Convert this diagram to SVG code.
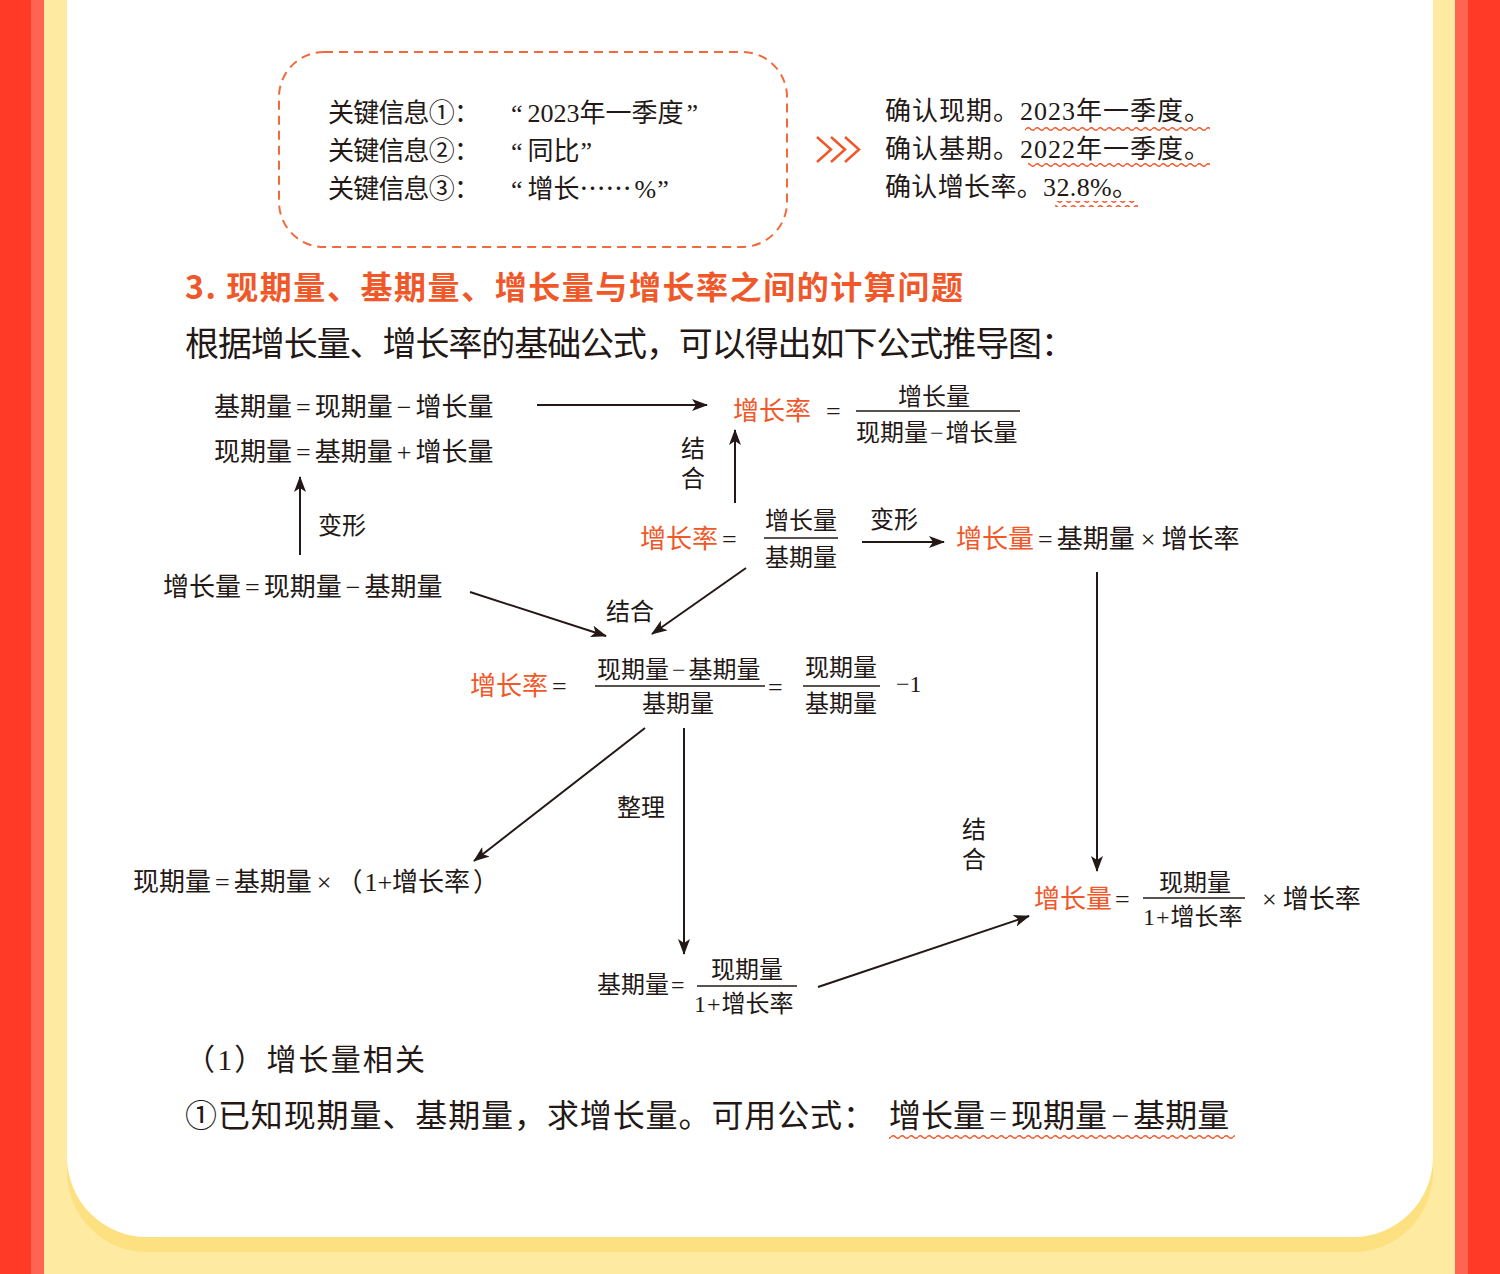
<svg xmlns="http://www.w3.org/2000/svg" width="1500" height="1274" viewBox="0 0 1500 1274">
<style>
.t{font-family:"Liberation Serif","Noto Sans CJK SC",serif;fill:#231815;}
.c{font-family:"Noto Sans CJK SC",sans-serif;}
.o{fill:#f0582a;}
.s26{font-size:26px;}
.s24{font-size:24px;}
.h{font-family:"Noto Sans CJK SC","Liberation Sans",sans-serif;font-weight:bold;font-size:32px;fill:#f0582a;}
.fr{stroke:#231815;stroke-width:1.3;}
.ar{stroke:#231815;stroke-width:2;fill:none;marker-end:url(#ah);}
</style>
<defs>
<marker id="ah" markerUnits="userSpaceOnUse" markerWidth="16" markerHeight="12" refX="15" refY="6" orient="auto">
<path d="M0,0 L16,6 L0,12 L4,6 Z" fill="#231815"/>
</marker>
<pattern id="wave" patternUnits="userSpaceOnUse" width="9" height="6">
<path d="M0,3 Q2.25,0.5 4.5,3 T9,3" fill="none" stroke="#f0582a" stroke-width="1.4"/>
</pattern>
</defs>
<g id="background">
<rect x="0" y="0" width="1500" height="1274" fill="#feeaa0"/>
<rect x="0" y="0" width="31" height="1274" fill="#ff3a26"/>
<rect x="31" y="0" width="13" height="1274" fill="#ff6452"/>
<rect x="1455" y="0" width="13" height="1274" fill="#ff6452"/>
<rect x="1468" y="0" width="32" height="1274" fill="#ff3a26"/>
<path d="M67 0 H1433 V1172 A80 80 0 0 1 1353 1252 H147 A80 80 0 0 1 67 1172 Z" fill="#fde07f"/>
<path d="M67 0 H1433 V1157 A80 80 0 0 1 1353 1237 H147 A80 80 0 0 1 67 1157 Z" fill="#ffffff"/>
</g>
<g id="key-box">
<rect x="279" y="52" width="508" height="195" rx="45" fill="none" stroke="#f26a3a" stroke-width="2" stroke-dasharray="9 6"/>
<text class="t s26" x="328" y="122" textLength="152" lengthAdjust="spacing">关键信息①：</text>
<text class="t s26" x="511" y="122">“<tspan dx="5">2023年一季度</tspan><tspan dx="3">”</tspan></text>
<text class="t s26" x="328" y="160" textLength="152" lengthAdjust="spacing">关键信息②：</text>
<text class="t s26" x="511" y="160">“<tspan dx="5">同比</tspan><tspan dx="1">”</tspan></text>
<text class="t s26" x="328" y="198" textLength="152" lengthAdjust="spacing">关键信息③：</text>
<text class="t s26" x="511" y="198">“<tspan dx="5">增长</tspan><tspan class="c">……</tspan><tspan dx="3">%</tspan><tspan dx="1">”</tspan></text>
</g>
<g id="chevrons" fill="none" stroke="#f0582a" stroke-width="2.5">
<path d="M817 137 L831 149.5 L817 162"/>
<path d="M831 137 L845 149.5 L831 162"/>
<path d="M845 137 L859 149.5 L845 162"/>
</g>
<g id="confirm">
<text class="t s26" x="885" y="120" textLength="325" lengthAdjust="spacing">确认现期。2023年一季度。</text>
<text class="t s26" x="885" y="158" textLength="325" lengthAdjust="spacing">确认基期。2022年一季度。</text>
<text class="t s26" x="885" y="196" textLength="253" lengthAdjust="spacing">确认增长率。32.8%。</text>
<rect x="1025" y="125" width="185" height="6" fill="url(#wave)"/>
<rect x="1028" y="163" width="182" height="6" fill="url(#wave)"/>
<rect x="1055" y="201" width="83" height="6" fill="url(#wave)"/>
</g>
<g id="heading">
<text class="h" x="185" y="299" textLength="778" lengthAdjust="spacing">3. 现期量、基期量、增长量与增长率之间的计算问题</text>
<text class="t" x="185" y="356" font-size="34" textLength="890" lengthAdjust="spacing">根据增长量、增长率的基础公式，可以得出如下公式推导图：</text>
</g>
<g id="connectors">
<line class="ar" x1="537" y1="405" x2="707" y2="405"/>
<line class="ar" x1="300" y1="555" x2="300" y2="477"/>
<line class="ar" x1="470" y1="592" x2="606" y2="636"/>
<line class="ar" x1="735" y1="503" x2="735" y2="430"/>
<line class="ar" x1="862" y1="542" x2="944" y2="542"/>
<line class="ar" x1="746" y1="568" x2="652" y2="634"/>
<line class="ar" x1="1097" y1="572" x2="1097" y2="871"/>
<line class="ar" x1="645" y1="728" x2="474" y2="861"/>
<line class="ar" x1="684" y1="728" x2="684" y2="954"/>
<line class="ar" x1="818" y1="987" x2="1029" y2="916"/>
</g>
<g id="labels">
<text class="t s24" x="318" y="534">变形</text>
<text class="t s24" x="606" y="620">结合</text>
<text class="t s24" x="681" y="457">结</text>
<text class="t s24" x="681" y="487">合</text>
<text class="t s24" x="870" y="528">变形</text>
<text class="t s24" x="617" y="816">整理</text>
<text class="t s24" x="962" y="838">结</text>
<text class="t s24" x="962" y="868">合</text>
</g>
<g id="node-base-current">
<text class="t s26" x="214" y="416">基期量<tspan dx="4">=</tspan><tspan dx="4">现期量</tspan><tspan dx="4">−</tspan><tspan dx="4">增长量</tspan></text>
<text class="t s26" x="214" y="461">现期量<tspan dx="4">=</tspan><tspan dx="4">基期量</tspan><tspan dx="4">+</tspan><tspan dx="4">增长量</tspan></text>
</g>
<g id="node-growth-def">
<text class="t s26" x="163" y="596">增长量<tspan dx="4">=</tspan><tspan dx="4">现期量</tspan><tspan dx="4">−</tspan><tspan dx="4">基期量</tspan></text>
</g>
<g id="node-rate-top">
<text class="t s26 o" x="733" y="420">增长率</text>
<text class="t s26" x="826" y="420">=</text>
<text class="t s24" x="934" y="405" text-anchor="middle">增长量</text>
<line class="fr" x1="856" y1="411" x2="1020" y2="411"/>
<text class="t s24" x="856" y="441">现期量<tspan dx="2">−</tspan><tspan dx="2">增长量</tspan></text>
</g>
<g id="node-rate-mid">
<text class="t s26" x="640" y="548"><tspan class="o">增长率</tspan><tspan dx="4">=</tspan></text>
<text class="t s24" x="801" y="529" text-anchor="middle">增长量</text>
<line class="fr" x1="764" y1="538" x2="838" y2="538"/>
<text class="t s24" x="801" y="566" text-anchor="middle">基期量</text>
</g>
<g id="node-growth-rate">
<text class="t s26" x="956" y="548"><tspan class="o">增长量</tspan><tspan dx="4">=</tspan><tspan dx="4">基期量</tspan><tspan dx="6">×</tspan><tspan dx="6">增长率</tspan></text>
</g>
<g id="node-rate-center">
<text class="t s26" x="470" y="695"><tspan class="o">增长率</tspan><tspan dx="4">=</tspan></text>
<text class="t s24" x="597" y="678">现期量<tspan dx="3">−</tspan><tspan dx="3">基期量</tspan></text>
<line class="fr" x1="595" y1="686" x2="765" y2="686"/>
<text class="t s24" x="678" y="712" text-anchor="middle">基期量</text>
<text class="t s26" x="768" y="696">=</text>
<text class="t s24" x="841" y="676" text-anchor="middle">现期量</text>
<line class="fr" x1="803" y1="686" x2="880" y2="686"/>
<text class="t s24" x="841" y="712" text-anchor="middle">基期量</text>
<text class="t s24" x="896" y="692">−1</text>
</g>
<g id="node-current">
<text class="t s26" x="133" y="891">现期量<tspan dx="4">=</tspan><tspan dx="4">基期量</tspan><tspan dx="5">×</tspan><tspan dx="5">（</tspan><tspan dx="2">1+增长率</tspan><tspan dx="3">）</tspan></text>
</g>
<g id="node-base">
<text class="t s24" x="597" y="993">基期量<tspan dx="2">=</tspan></text>
<text class="t s24" x="747" y="978" text-anchor="middle">现期量</text>
<line class="fr" x1="697" y1="986" x2="797" y2="986"/>
<text class="t s24" x="694" y="1012">1<tspan dx="1">+</tspan><tspan dx="1">增长率</tspan></text>
</g>
<g id="node-growth-final">
<text class="t s26" x="1034" y="908"><tspan class="o">增长量</tspan><tspan dx="3">=</tspan></text>
<text class="t s24" x="1195" y="891" text-anchor="middle">现期量</text>
<line class="fr" x1="1143" y1="898" x2="1245" y2="898"/>
<text class="t s24" x="1143" y="925">1<tspan dx="1">+</tspan><tspan dx="1">增长率</tspan></text>
<text class="t s26" x="1262" y="908">×<tspan dx="6">增长率</tspan></text>
</g>
<g id="footer">
<text class="t" x="185" y="1070" font-size="30" textLength="240" lengthAdjust="spacing">（1）增长量相关</text>
<text class="t" x="185" y="1127" font-size="32" textLength="690" lengthAdjust="spacing">①已知现期量、基期量，求增长量。可用公式：</text>
<text class="t" x="889" y="1127" font-size="32">增长量<tspan dx="4">=</tspan><tspan dx="4">现期量</tspan><tspan dx="4">−</tspan><tspan dx="4">基期量</tspan></text>
<rect x="889" y="1134" width="346" height="6" fill="url(#wave)"/>
</g>
</svg>
